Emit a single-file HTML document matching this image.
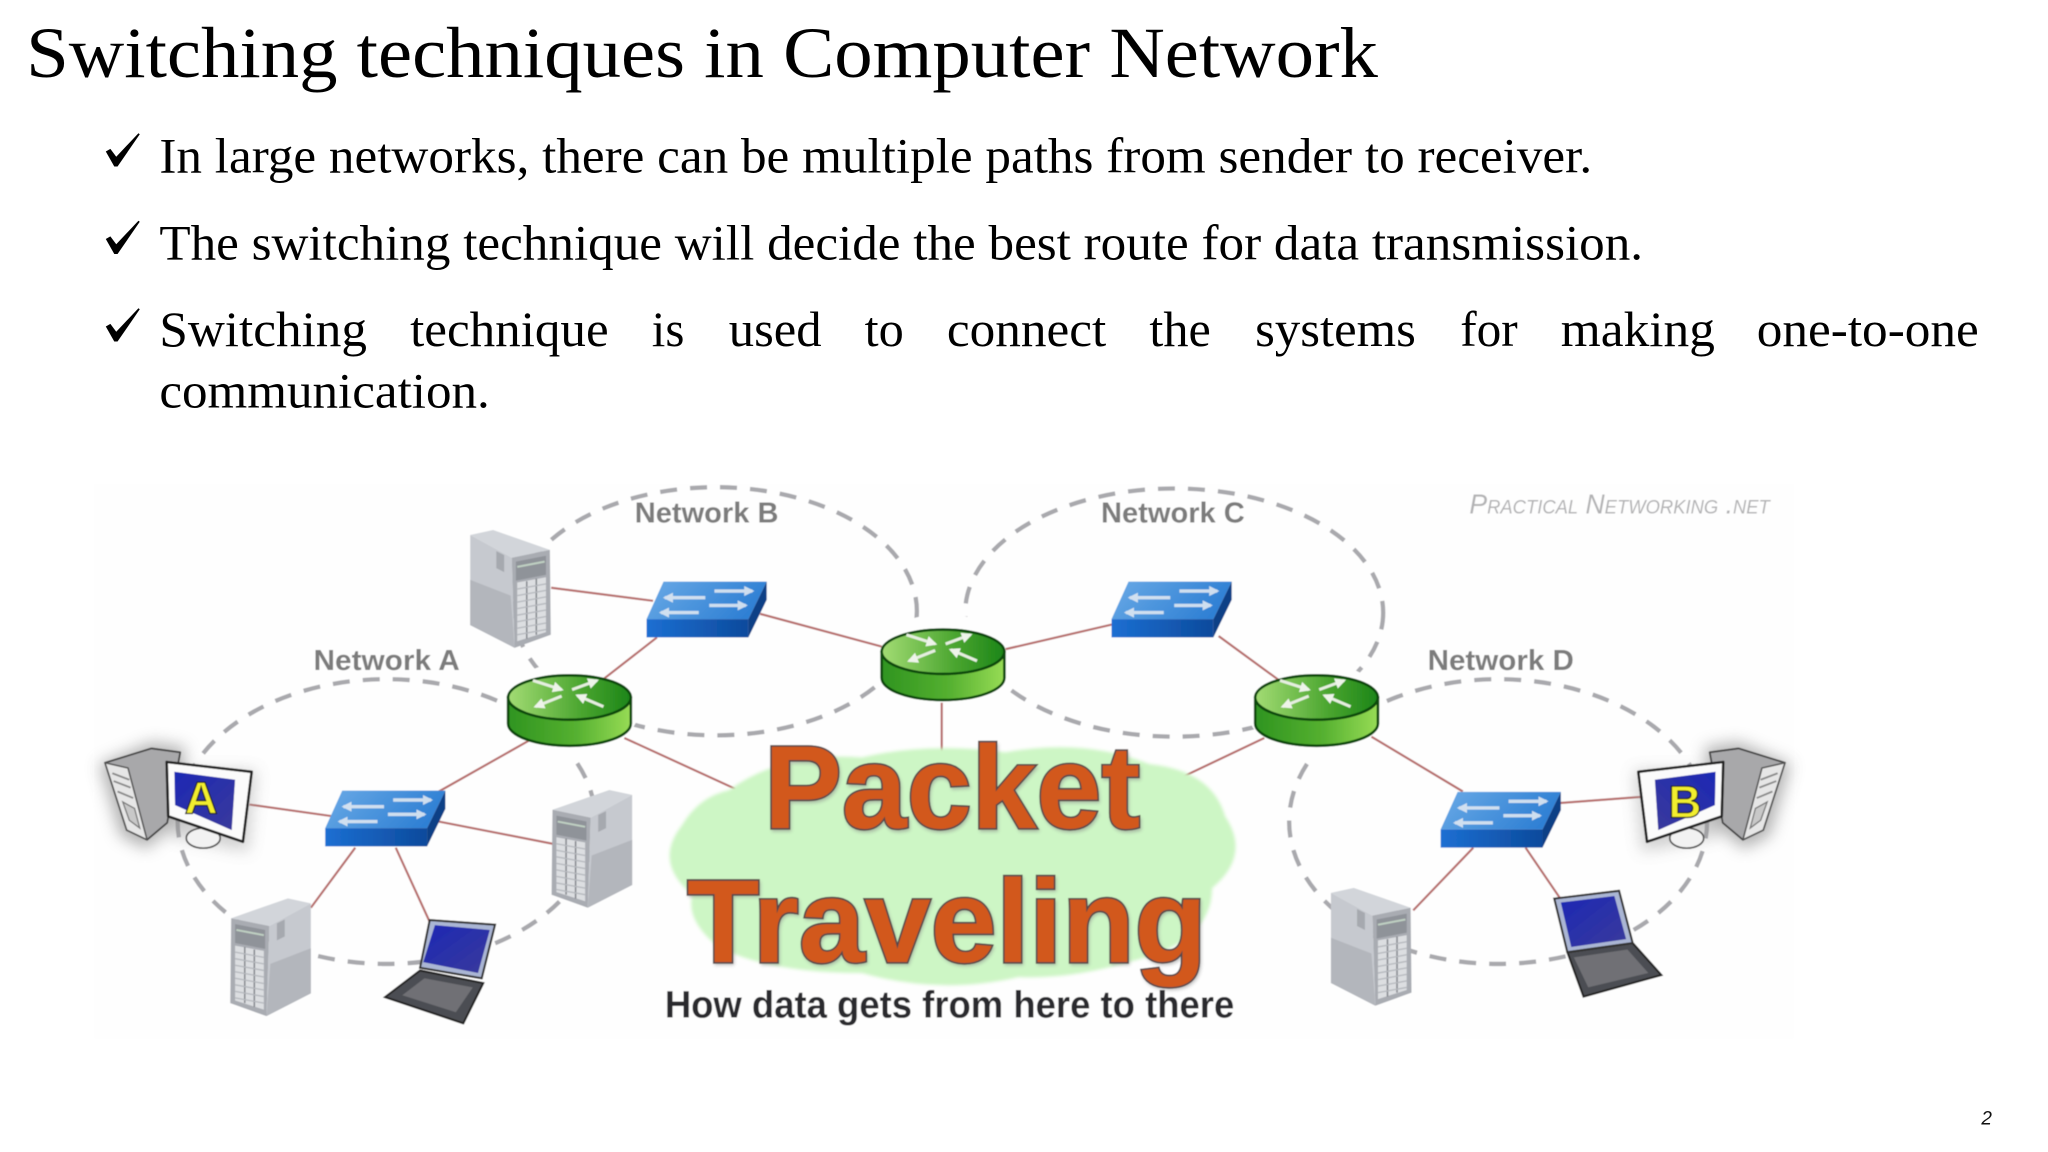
<!DOCTYPE html>
<html><head><meta charset="utf-8"><title>Switching techniques in Computer Network</title>
<style>html,body{margin:0;padding:0;background:#fff;width:2048px;height:1152px;overflow:hidden}svg{display:block}
.s{font-family:"Liberation Serif",serif;fill:#000}.l{font-family:"Liberation Sans",sans-serif;font-weight:bold;fill:#7b7b7b;font-size:22px}</style></head>
<body>
<svg xmlns="http://www.w3.org/2000/svg" width="2048" height="1152" viewBox="0 0 1568 882">
<defs>
<linearGradient id="swT" x1="0" y1="0" x2="1" y2="0.3"><stop offset="0" stop-color="#6aaae6"/><stop offset="1" stop-color="#2f80d4"/></linearGradient>
<linearGradient id="swF" x1="0" y1="0" x2="1" y2="0"><stop offset="0" stop-color="#1c6fd2"/><stop offset="1" stop-color="#0d4a9c"/></linearGradient>
<linearGradient id="rT" x1="0" y1="0" x2="1" y2="0"><stop offset="0" stop-color="#a3dc74"/><stop offset="0.6" stop-color="#4aa52f"/><stop offset="1" stop-color="#1c8518"/></linearGradient>
<linearGradient id="rS" x1="0" y1="0" x2="1" y2="0"><stop offset="0" stop-color="#2f9420"/><stop offset="0.55" stop-color="#55b030"/><stop offset="1" stop-color="#97dc55"/></linearGradient>
<linearGradient id="blue" x1="0" y1="0" x2="1" y2="1"><stop offset="0" stop-color="#1c28b4"/><stop offset="1" stop-color="#3a3a9c"/></linearGradient>
<marker id="ah" viewBox="0 0 10 10" refX="8" refY="5" markerWidth="3.6" markerHeight="3.6" orient="auto"><path d="M0 0L10 5L0 10z" fill="#eef4ea"/></marker>
<marker id="ab" viewBox="0 0 10 10" refX="8" refY="5" markerWidth="3" markerHeight="3" orient="auto"><path d="M0 0L10 5L0 10z" fill="#dfe8f2"/></marker>
<filter id="soft" x="-5%" y="-5%" width="110%" height="110%"><feGaussianBlur stdDeviation="0.5"/></filter>
<filter id="glow" x="-40%" y="-40%" width="180%" height="180%"><feGaussianBlur stdDeviation="6"/></filter>
<filter id="cl" x="-5%" y="-5%" width="110%" height="110%"><feGaussianBlur stdDeviation="1.2"/></filter>
<filter id="ts" x="-5%" y="-10%" width="110%" height="120%"><feGaussianBlur stdDeviation="1.2"/></filter>

<g id="switch">
<polygon points="13,-28.7 92,-28.7 78,0 0,0" fill="url(#swT)"/>
<polygon points="0,0 78,0 78,14 0,14" fill="url(#swF)"/>
<polygon points="78,0 92,-28.7 92,-14.7 78,14" fill="#0c3f86"/>
<g stroke="#dfe8f2" stroke-width="2.6" fill="none" opacity=".9">
<line x1="52" y1="-21.5" x2="81" y2="-21.5" marker-end="url(#ab)"/>
<line x1="48" y1="-10.5" x2="76" y2="-10.5" marker-end="url(#ab)"/>
<line x1="45" y1="-16.4" x2="14" y2="-16.4" marker-end="url(#ab)"/>
<line x1="40" y1="-5" x2="11" y2="-5" marker-end="url(#ab)"/>
</g></g>

<g id="router">
<path d="M-47,0 L-47,20 A47,17 0 0 0 47,20 L47,0 Z" fill="url(#rS)" stroke="#0c4a0c" stroke-width="2"/>
<ellipse cx="0" cy="0" rx="47" ry="17" fill="url(#rT)" stroke="#0c4a0c" stroke-width="2"/>
<g stroke="#e6efe0" stroke-width="2.3" fill="none">
<line x1="-28" y1="-13" x2="-6" y2="-6" marker-end="url(#ah)"/>
<line x1="2" y1="-6" x2="21" y2="-13" marker-end="url(#ah)"/>
<line x1="-6" y1="-1" x2="-26" y2="7" marker-end="url(#ah)"/>
<line x1="26" y1="7" x2="6" y2="-1.5" marker-end="url(#ah)"/>
</g></g>

<g id="server">
<polygon points="1,5.6 18.5,1.8 62,17 32.8,23" fill="#d2d5da"/>
<polygon points="1,5.6 32.8,23 35,92 1,74.6" fill="#c6c9cf"/>
<polygon points="1,40 32,52 35,92 1,74.6" fill="#b3b6bc"/>
<polygon points="21,18 27,21 27,34 21,31" fill="#a6a9af"/>
<polygon points="32.8,23 62,17 62.7,82 35,92" fill="#a9acb2"/>
<polygon points="36,26 59,21.5 59,36 36,40.5" fill="#8f9399"/>
<line x1="37" y1="30" x2="58" y2="26" stroke="#bfd0c2" stroke-width="1.5"/>
<polygon points="37,42 59,38 59,80 37,87" fill="#dcdee1"/>
<g stroke="#85888e" stroke-width="1.2"><line x1="44.3" y1="41" x2="44.3" y2="85"/><line x1="51.6" y1="39" x2="51.6" y2="82"/></g>
<path d="M37,47L59,43M37,52L59,48M37,57L59,53M37,62L59,58M37,67L59,63M37,72L59,68M37,77L59,73M37,82L59,78" stroke="#b5b8bd" stroke-width="1" fill="none"/>
</g>

<g id="computer">
<polygon points="76,585 116,568 142,572 136,630 112,650 92,640" fill="#777" filter="url(#glow)" opacity=".55"/>
<polygon points="124,590 196,590 190,652 130,640" fill="#999" filter="url(#glow)" opacity=".45"/>
<ellipse cx="155.6" cy="641.7" rx="13" ry="7.7" fill="#f2f2f2" stroke="#555" stroke-width="1.3"/>
<polygon points="80.4,584 116,573 138,576 128,630 112.6,643 97,635.5" fill="#a8a8aa" stroke="#444" stroke-width="1.4" stroke-linejoin="round"/>
<polygon points="80.4,584 98,588 112.6,643 97,635.5" fill="#e6e6e6" stroke="#555" stroke-width="1.2" stroke-linejoin="round"/>
<path d="M86,592L99,597M87,598L100,603M90,606L102,611" stroke="#888" stroke-width="1.4" fill="none"/>
<polygon points="94,614 103,619 107,634 99,628" fill="#c8c8c8" stroke="#777"/>
<polygon points="127.6,583.4 192.7,590.9 186,644.5 128.8,625" fill="#fbfbfb" stroke="#222" stroke-width="2" stroke-linejoin="round"/>
<polygon points="133.5,590.9 180,597 177.4,635.6 134,616.4" fill="url(#blue)"/>
</g>
</defs>

<!-- slide text -->
<text class="s" x="20" y="59" font-size="55.5" textLength="1035" lengthAdjust="spacingAndGlyphs">Switching techniques in Computer Network</text>
<g fill="#000">
<polygon points="81,116 84.5,114 89,120 106,102 107,102.8 90,127.5 87.5,127.5"/>
<polygon points="81,183 84.5,181 89,187 106,169 107,169.8 90,194.5 87.5,194.5"/>
<polygon points="81,250 84.5,248 89,254 106,236 107,236.8 90,261.5 87.5,261.5"/>
</g>
<g font-size="38">
<text class="s" x="122" y="132" textLength="1097" lengthAdjust="spacingAndGlyphs">In large networks, there can be multiple paths from sender to receiver.</text>
<text class="s" x="122" y="198.5" textLength="1136" lengthAdjust="spacingAndGlyphs">The switching technique will decide the best route for data transmission.</text>
<text class="s" x="122" y="265" textLength="159" lengthAdjust="spacingAndGlyphs">Switching</text>
<text class="s" x="314" y="265" textLength="152" lengthAdjust="spacingAndGlyphs">technique</text>
<text class="s" x="499" y="265" textLength="25" lengthAdjust="spacingAndGlyphs">is</text>
<text class="s" x="558" y="265" textLength="71" lengthAdjust="spacingAndGlyphs">used</text>
<text class="s" x="662" y="265" textLength="30" lengthAdjust="spacingAndGlyphs">to</text>
<text class="s" x="725" y="265" textLength="122" lengthAdjust="spacingAndGlyphs">connect</text>
<text class="s" x="880" y="265" textLength="47" lengthAdjust="spacingAndGlyphs">the</text>
<text class="s" x="961" y="265" textLength="123" lengthAdjust="spacingAndGlyphs">systems</text>
<text class="s" x="1118" y="265" textLength="44" lengthAdjust="spacingAndGlyphs">for</text>
<text class="s" x="1195" y="265" textLength="118" lengthAdjust="spacingAndGlyphs">making</text>
<text class="s" x="1345" y="265" textLength="170" lengthAdjust="spacingAndGlyphs">one-to-one</text>
<text class="s" x="122" y="312" textLength="253" lengthAdjust="spacingAndGlyphs">communication.</text>
</g>
<text x="1517" y="861" font-family="&quot;Liberation Sans&quot;,sans-serif" font-style="italic" font-size="14.5" fill="#111">2</text>

<!-- diagram -->
<g filter="url(#soft)">
<rect x="72" y="370" width="1302" height="425" fill="#fefefe"/>
<g fill="none" stroke="#a9a9ad" stroke-width="3.3" stroke-dasharray="13 10">
<ellipse cx="548" cy="468" rx="154" ry="95"/>
<ellipse cx="899" cy="469" rx="160" ry="95"/>
<ellipse cx="296" cy="629" rx="160" ry="109"/>
<ellipse cx="1147" cy="629" rx="160" ry="109"/>
</g>
<g fill="#fefefe">
<ellipse cx="722" cy="508" rx="55" ry="38"/>
<ellipse cx="436" cy="543" rx="53" ry="36"/>
<ellipse cx="1008" cy="543" rx="53" ry="36"/>
</g>
<g stroke="#b8706e" stroke-width="1.7" fill="none">
<path d="M422,450L500,460M503,488L462,520M582,470L675,495M770,497L852,478M933,487L985,525M405,567L336,606M191,616L255,625M336,629L423,646M272,649L238,695M303,649L330,708M478,565L563,604M721,538L721,576M968,565L905,595M1050,564L1120,606M1192,615L1258,610M1128,649L1082,697M1168,649L1196,690"/>
</g>

<!-- cloud -->
<path d="M558,605 Q600,575 660,580 Q710,568 770,576 Q830,565 880,585 Q928,590 938,625 Q958,655 928,680 Q928,720 870,735 Q820,750 780,748 Q720,762 660,745 Q590,745 550,725 Q525,705 530,685 Q500,660 522,632 Q535,610 558,605Z" fill="#cdf6c5" filter="url(#cl)"/>

<!-- nodes -->
<use href="#server" transform="translate(359,404)"/>
<use href="#server" transform="translate(485,603) scale(-1,1)"/>
<use href="#server" transform="translate(239,686) scale(-1,1)"/>
<use href="#server" transform="translate(1018,678)"/>
<use href="#switch" x="249" y="634"/>
<use href="#switch" x="495" y="474"/>
<use href="#switch" x="851" y="474"/>
<use href="#switch" x="1103" y="635"/>
<use href="#router" x="436" y="534"/>
<use href="#router" x="722" y="499"/>
<use href="#router" x="1008" y="534"/>
<use href="#computer"/>
<use href="#computer" transform="translate(1447,0) scale(-1,1)"/>
<text x="154" y="623" text-anchor="middle" font-family="&quot;Liberation Sans&quot;,sans-serif" font-weight="bold" font-size="35" fill="#f2ee2e" stroke="#222" stroke-width="1">A</text>
<text x="1290" y="626" text-anchor="middle" font-family="&quot;Liberation Sans&quot;,sans-serif" font-weight="bold" font-size="35" fill="#f2ee2e" stroke="#222" stroke-width="1">B</text>

<!-- laptop A -->
<polygon points="321.6,743 370,752.7 354.7,783.5 294.8,763.4" fill="#4c4d52" stroke="#222" stroke-width="1.6"/>
<polygon points="325,749 362,756 349,775 308,762" fill="#6f7075"/>
<polygon points="329,704.4 379,708 368.8,749 321.6,741" fill="#aab6d4" stroke="#333" stroke-width="1.6"/>
<polygon points="333,708.3 375,712 366,745 324,736.6" fill="url(#blue)"/>
<!-- laptop B -->
<g transform="translate(6,0)">
<polygon points="1194,729 1244,722 1266,746.5 1206.4,763" fill="#4c4d52" stroke="#222" stroke-width="1.6"/>
<polygon points="1199,733 1240,727 1256,745 1210,756" fill="#6f7075"/>
<polygon points="1184,688 1233.6,682 1244,722 1194,729" fill="#aab6d4" stroke="#333" stroke-width="1.6"/>
<polygon points="1189,691 1230,686 1239,719 1197,725" fill="url(#blue)"/>
</g>

<!-- labels -->
<text class="l" x="486" y="400" textLength="110" lengthAdjust="spacingAndGlyphs">Network B</text>
<text class="l" x="843" y="400" textLength="110" lengthAdjust="spacingAndGlyphs">Network C</text>
<text class="l" x="240" y="513" textLength="112" lengthAdjust="spacingAndGlyphs">Network A</text>
<text class="l" x="1093" y="513" textLength="112" lengthAdjust="spacingAndGlyphs">Network D</text>
<text x="1125" y="393" textLength="230" lengthAdjust="spacingAndGlyphs" font-family="&quot;Liberation Sans&quot;,sans-serif" font-style="italic" font-size="21" fill="#b2b2b4" style="font-variant:small-caps">Practical Networking .net</text>

<!-- big text -->
<g font-family="&quot;Liberation Sans&quot;,sans-serif" font-weight="bold" font-size="90">
<g filter="url(#ts)" fill="#888" stroke="#888" stroke-width="2" opacity=".5">
<text x="586" y="636" textLength="288" lengthAdjust="spacingAndGlyphs">Packet</text>
<text x="527" y="738" textLength="398" lengthAdjust="spacingAndGlyphs">Traveling</text>
</g>
<g fill="#d2581a" stroke="#5a4a48" stroke-width="2.6" paint-order="stroke">
<text x="585" y="634" textLength="288" lengthAdjust="spacingAndGlyphs">Packet</text>
<text x="526" y="736.5" textLength="398" lengthAdjust="spacingAndGlyphs">Traveling</text>
</g>
<text x="509" y="779" font-size="29" fill="#2b2b2d" textLength="436" lengthAdjust="spacingAndGlyphs">How data gets from here to there</text>
</g>
</g>
</svg>
</body></html>
